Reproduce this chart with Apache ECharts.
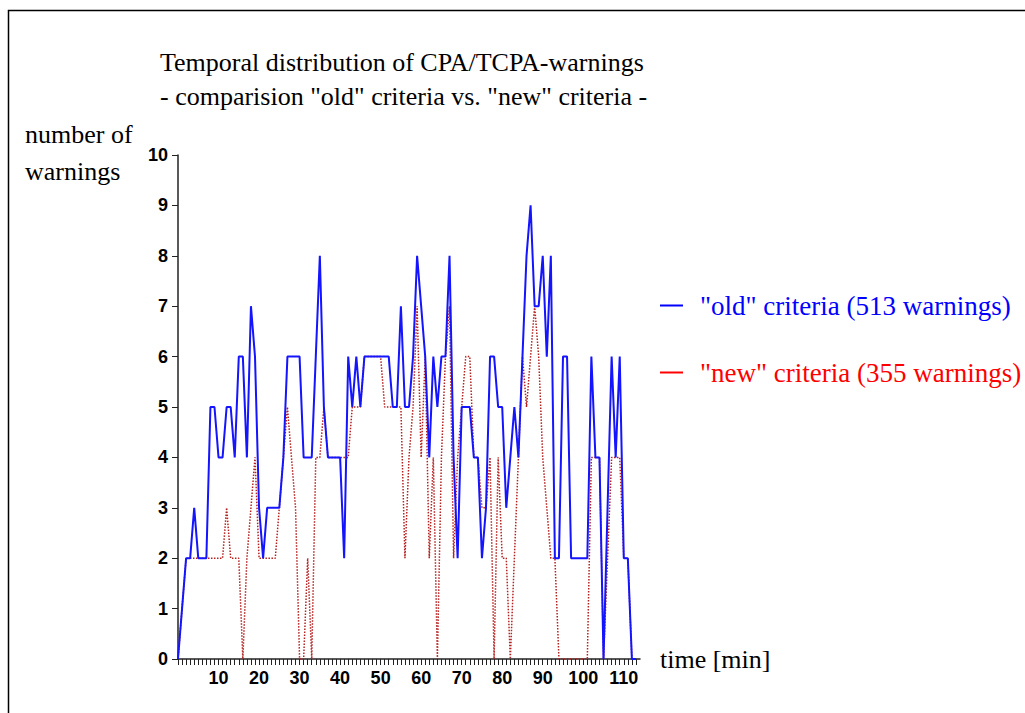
<!DOCTYPE html>
<html style="height: 100%">

<head>
    <meta charset="utf-8">
</head>

<body style="height: 100%; margin: 0; background: #fff">
    <div id="container" style="width: 1025px; height: 713px"></div>
    <script type="text/javascript" src="https://cdn.jsdelivr.net/npm/echarts@6/dist/echarts.min.js"></script>
    <script type="text/javascript">

        // warnings per minute, minute 0 .. 113
        var oldCriteria = [
            0, 1, 2, 2, 3, 2, 2, 2, 5, 5,
            4, 4, 5, 5, 4, 6, 6, 4, 7, 6,
            3, 2, 3, 3, 3, 3, 4, 6, 6, 6,
            6, 4, 4, 4, 6, 8, 5, 4, 4, 4,
            4, 2, 6, 5, 6, 5, 6, 6, 6, 6,
            6, 6, 6, 5, 5, 7, 5, 5, 6, 8,
            7, 6, 4, 6, 5, 6, 6, 8, 4, 2,
            5, 5, 5, 4, 4, 2, 3, 6, 6, 5,
            5, 3, 4, 5, 4, 6, 8, 9, 7, 7,
            8, 6, 8, 2, 2, 6, 6, 2, 2, 2,
            2, 2, 6, 4, 4, 0, 3, 6, 4, 6,
            2, 2, 0, 0
        ];
        var newCriteria = [
            0, 1, 2, 2, 2, 2, 2, 2, 2, 2,
            2, 2, 3, 2, 2, 2, 0, 2, 3, 4,
            2, 2, 2, 2, 2, 3, 4, 5, 4, 3,
            0, 0, 2, 0, 4, 4, 5, 4, 4, 4,
            4, 4, 4, 5, 5, 5, 6, 6, 6, 6,
            6, 5, 5, 5, 5, 5, 2, 4, 5, 7,
            4, 6, 2, 4, 0, 4, 6, 7, 2, 4,
            5, 6, 6, 4, 4, 3, 3, 4, 0, 4,
            2, 2, 0, 2, 4, 6, 5, 6, 7, 6,
            4, 3, 2, 2, 0, 0, 0, 0, 0, 0,
            0, 0, 4, 4, 4, 0, 2, 4, 4, 4,
            2, 2, 0, 0
        ];
        var seriesNames = ['"old" criteria (513 warnings)', '"new" criteria (355 warnings)'];
        var xLabels = [10, 20, 30, 40, 50, 60, 70, 80, 90, 100, 110];

        function toPairs(arr) {
            return arr.map(function (v, i) { return [i, v]; });
        }

        var serif = '"Liberation Serif", "DejaVu Serif", serif';
        var dom = document.getElementById("container");
        var myChart = echarts.init(dom, null, { renderer: 'svg' });

        var option = {
            backgroundColor: '#fff',
            animation: false,
            title: {
                text: 'Temporal distribution of CPA/TCPA-warnings\n- comparision "old" criteria vs. "new" criteria -',
                left: 160,
                top: 45,
                padding: 0,
                textStyle: {
                    fontFamily: serif,
                    fontSize: 26,
                    fontWeight: 'normal',
                    color: '#000',
                    lineHeight: 34
                }
            },
            legend: {
                orient: 'vertical',
                left: 660,
                top: 292,
                padding: 0,
                itemGap: 40,
                itemWidth: 23,
                itemHeight: 2,
                icon: 'rect',
                textStyle: {
                    fontFamily: serif,
                    fontSize: 27,
                    padding: [0, 0, 0, 12]
                },
                data: [
                    { name: seriesNames[0], itemStyle: { color: '#0000ff' }, textStyle: { color: '#0000ff' } },
                    { name: seriesNames[1], itemStyle: { color: '#ff0000' }, textStyle: { color: '#ff0000' } }
                ]
            },
            graphic: [
                {
                    type: 'rect',
                    shape: { x: 8.5, y: 10.5, width: 1100, height: 800 },
                    style: { fill: 'none', stroke: '#000', lineWidth: 1.5 }
                },
                {
                    type: 'text',
                    left: 25,
                    top: 116,
                    style: {
                        text: 'number of\nwarnings',
                        font: '26px ' + serif,
                        lineHeight: 37,
                        fill: '#000'
                    }
                }
            ],
            grid: {
                left: 178,
                right: 385,
                top: 155,
                bottom: 54
            },
            xAxis: {
                type: 'value',
                min: 0,
                max: 114,
                interval: 1,
                name: 'time [min]',
                nameLocation: 'end',
                nameGap: 20,
                nameTextStyle: {
                    fontFamily: serif,
                    fontSize: 26,
                    color: '#000',
                    verticalAlign: 'middle'
                },
                splitLine: { show: false },
                axisLine: { lineStyle: { color: '#222', width: 1.5 } },
                axisTick: { length: 6, lineStyle: { color: '#222' } },
                axisLabel: {
                    margin: 10,
                    fontFamily: '"Liberation Sans", Arial, sans-serif',
                    fontWeight: 'bold',
                    fontSize: 18,
                    color: '#000',
                    showMaxLabel: false,
                    formatter: function (v) {
                        return xLabels.indexOf(v) >= 0 ? String(v) : '';
                    }
                }
            },
            yAxis: {
                type: 'value',
                min: 0,
                max: 10,
                interval: 1,
                splitLine: { show: false },
                axisLine: { show: true, lineStyle: { color: '#222', width: 1.5 } },
                axisTick: { show: true, length: 6, lineStyle: { color: '#222' } },
                axisLabel: {
                    margin: 10,
                    fontFamily: '"Liberation Sans", Arial, sans-serif',
                    fontWeight: 'bold',
                    fontSize: 18,
                    color: '#000'
                }
            },
            series: [
                {
                    name: seriesNames[1],
                    type: 'line',
                    symbol: 'none',
                    z: 2,
                    data: toPairs(newCriteria),
                    lineStyle: { color: '#b52020', width: 1.5, type: [1.5, 1.5] }
                },
                {
                    name: seriesNames[0],
                    type: 'line',
                    symbol: 'none',
                    z: 3,
                    data: toPairs(oldCriteria),
                    lineStyle: { color: '#1414ff', width: 2 }
                }
            ]
        };

        myChart.setOption(option);
    </script>
</body>

</html>
